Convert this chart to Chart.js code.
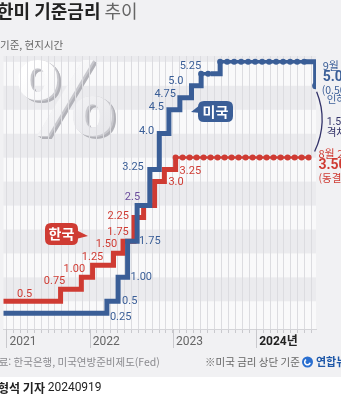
<!DOCTYPE html>
<html lang="ko"><head><meta charset="utf-8">
<script src="https://cdn.jsdelivr.net/npm/chart.js@4.4.1/dist/chart.umd.min.js"></script>
<style>html,body{margin:0;padding:0;background:#f1f1f3;overflow:hidden}canvas{display:block}</style>
</head><body>
<canvas id="chart" width="341" height="400"></canvas>
<script>
// ---- data ----
const usDates = ['2020-12-01','2022-03-16','2022-05-04','2022-06-15','2022-07-27','2022-09-21','2022-11-02','2022-12-14','2023-02-01','2023-03-22','2023-05-03','2023-06-14','2023-07-26','2023-09-20','2023-11-01','2023-12-13','2024-01-31','2024-03-20','2024-05-01','2024-06-12','2024-07-31','2024-09-18'];
const usRates = [0.25,0.5,1.0,1.75,2.5,3.25,4.0,4.5,4.75,5.0,5.25,5.25,5.5,5.5,5.5,5.5,5.5,5.5,5.5,5.5,5.5,5.0];
const usLabels = ['0.25','0.5','1.00','1.75','2.5','3.25','4.0','4.5','4.75','5.0','5.25','','','','','','','','','','',''];
const krDates = ['2020-12-01','2021-08-26','2021-11-25','2022-01-14','2022-04-14','2022-05-26','2022-07-13','2022-08-25','2022-10-12','2022-11-24','2023-01-13','2023-02-23','2023-04-11','2023-05-25','2023-07-13','2023-08-24','2023-10-19','2023-11-30','2024-01-11','2024-02-22','2024-04-12','2024-05-23','2024-07-11','2024-08-22'];
const krRates = [0.5,0.75,1.0,1.25,1.5,1.75,2.25,2.5,3.0,3.25,3.5,3.5,3.5,3.5,3.5,3.5,3.5,3.5,3.5,3.5,3.5,3.5,3.5,3.5];
const krLabels = ['0.5','0.75','1.00','1.25','1.50','1.75','2.25','','3.0','3.25','','','','','','','','','','','','','',''];
const yearLabels = ['2021','2022','2023','2024년'];
const usNote = ['9월 18일','5.00','(0.50%p','인하)'];
const krNote = ['8월 22일','3.50','(동결)'];
const gapNote = ['1.50%p','격차'];
const titleBold = '한미 기준금리', titleLight = '추이';
const subtitle = '기준, 현지시간';
const source = '자료: 한국은행, 미국연방준비제도(Fed)';
const footnote = '※미국 금리 상단 기준';
const byline = ['김형석 기자', '20240919'];

// ---- styles ----
const KR = '"Noto Sans CJK KR", sans-serif';
const NUM = 'Roboto, "Noto Sans CJK KR", sans-serif';
const BLUE = '#3a5e97', RED = '#cf3b33', PURPLE = '#6a4c9c';

function toT(s){const [y,m,d]=s.split('-').map(Number);const dim=new Date(y,m,0).getDate();return (y-2021)*12+(m-1)+(d-1)/dim;}
const usPts = usDates.map((d,i)=>({x:toT(d),y:usRates[i]}));
const krPts = krDates.map((d,i)=>({x:toT(d),y:krRates[i]}));
const flat = c => c.p0.parsed.y === c.p1.parsed.y;

function lineDs(pts,color,holdW,endDot){return {data:pts,borderColor:color,borderWidth:5,stepped:'before',fill:false,
  borderJoinStyle:'miter',borderCapStyle:'butt',
  pointRadius:c=>endDot&&c.dataIndex===pts.length-1?3.5:0,pointBackgroundColor:color,pointBorderWidth:0,pointHoverRadius:0,
  segment:{borderWidth:c=>flat(c)?holdW:5}};}
function dotDs(pts,color){return {data:pts,borderColor:color,borderWidth:6,stepped:'before',fill:false,pointRadius:0,
  borderDash:[0,7],borderCapStyle:'round',
  segment:{borderColor:c=>flat(c)?color:'rgba(0,0,0,0)'}};}

// label placement: [anchor('own'|'next'), align, dx, dy, color]
const usPlace = {0:['next','left',3,4],1:['next','left',4,0],2:['next','left',3,0],3:['next','left',2,0],4:['own','right',3,-8,PURPLE],
  5:['own','right',-6,-2],6:['own','right',-5,-2],7:['own','right',-5,-2],8:['own','right',-4,-3],9:['own','right',-8,-4],10:['own','right',0,-7]};
const krPlace = {0:['next','center',-36,-7],1:['own','center',-6,-8],2:['own','center',-7,-8],3:['own','center',0,-8],4:['own','center',-7,-9],
  5:['own','center',-5,-9],6:['own','right',-5,-1],8:['next','left',4,1],9:['next','left',4,2]};

function T(ctx,s,x,y,font,color,align){ctx.font=font;ctx.fillStyle=color;ctx.textAlign=align||'left';ctx.textBaseline='middle';ctx.fillText(s,x,y);}

function drawLabels(ctx,xs,ys,pts,labels,place,color){
  labels.forEach((s,i)=>{ if(!s||!place[i]) return; const p=place[i];
    const at = p[0]==='next'?pts[i+1].x:pts[i].x;
    T(ctx,s,xs.getPixelForValue(at)+p[2],ys.getPixelForValue(pts[i].y)+p[3],'11px '+NUM,p[4]||color,p[1]); });
}
function rr(ctx,x,y,w,h,r){ctx.beginPath();ctx.moveTo(x+r,y);ctx.lineTo(x+w-r,y);ctx.quadraticCurveTo(x+w,y,x+w,y+r);ctx.lineTo(x+w,y+h-r);ctx.quadraticCurveTo(x+w,y+h,x+w-r,y+h);ctx.lineTo(x+r,y+h);ctx.quadraticCurveTo(x,y+h,x,y+h-r);ctx.lineTo(x,y+r);ctx.quadraticCurveTo(x,y,x+r,y);ctx.closePath();}

const bgPlugin = {id:'bg',
  beforeDraw(chart){
    const {ctx,chartArea:a,scales:{y}} = chart;
    ctx.save();
    ctx.fillStyle='#f1f1f3';ctx.fillRect(0,0,chart.width,chart.height);
    ctx.fillStyle='#ffffff';ctx.fillRect(0,377,chart.width,chart.height-377);
    for(let k=0;k<12;k++){
      const lo=k*0.5, hi=Math.min(lo+0.5,y.max); if(lo>=y.max) break;
      const top=y.getPixelForValue(hi), bot=k===0?a.bottom:y.getPixelForValue(lo);
      ctx.fillStyle = k%2===1 ? '#ebebee' : '#f9f9fa';
      ctx.fillRect(a.left,top,a.right-a.left,bot-top);
    }
    // big % graphic
    ctx.font='bold 100px "DejaVu Sans", sans-serif';ctx.textAlign='center';ctx.textBaseline='middle';
    for(let i=6;i>=1;i--){ctx.fillStyle=i>3?'#b2b2b8':'#c9c9ce';ctx.fillText('%',65+i*0.7,109+i*0.45);}
    const g=ctx.createLinearGradient(30,70,100,145);g.addColorStop(0,'#ffffff');g.addColorStop(1,'#e6e6ea');
    ctx.fillStyle=g;ctx.fillText('%',65,109);
    ctx.restore();
  },
  afterDraw(chart){
    const {ctx,chartArea:a,scales:{x,y}} = chart;
    ctx.save();
    // year dividers
    ctx.strokeStyle='#c9c9cd';ctx.lineWidth=1;
    [0,12,24,36].forEach(v=>{const px=Math.round(x.getPixelForValue(v))+0.5;ctx.beginPath();ctx.moveTo(px,a.bottom);ctx.lineTo(px,a.bottom+19);ctx.stroke();});
    // value labels
    drawLabels(ctx,x,y,krPts,krLabels,krPlace,RED);
    drawLabels(ctx,x,y,usPts,usLabels,usPlace,BLUE);
    // end annotations
    const ue=usPts[usPts.length-1], ke=krPts[krPts.length-1];
    const ex=x.getPixelForValue(ue.x), ey=y.getPixelForValue(ue.y);
    const kx=x.getPixelForValue(ke.x), ky=y.getPixelForValue(ke.y);
    T(ctx,usNote[0],ex+7,ey-20,'11px '+KR,BLUE);
    T(ctx,usNote[1],ex+7,ey-8,'bold 14px '+NUM,BLUE);
    T(ctx,usNote[2],ex+6,ey+4,'10.5px '+KR,BLUE);
    T(ctx,usNote[3],ex+11,ey+13,'10.5px '+KR,BLUE);
    const mid=(ey+ky)/2;
    T(ctx,gapNote[0],ex+11,mid+1,'10.5px '+NUM,'#34346a');
    T(ctx,gapNote[1],ex+11,mid+10,'10.5px '+KR,'#34346a');
    ctx.strokeStyle='#34346a';ctx.lineWidth=1.3;ctx.beginPath();ctx.moveTo(ex+1,ey+6);ctx.quadraticCurveTo(ex+13,mid,ex-1,ky-6);ctx.stroke();
    T(ctx,krNote[0],kx+9,ky-3.5,'11px '+KR,RED);
    T(ctx,krNote[1],kx+9,ky+7.5,'bold 14px '+NUM,RED);
    T(ctx,krNote[2],kx+9,ky+20.5,'10.5px '+KR,RED);
    // bubbles
    ctx.fillStyle=BLUE;rr(ctx,198,101,35,21,6);ctx.fill();
    ctx.beginPath();ctx.moveTo(200,105);ctx.lineTo(191,112);ctx.lineTo(200,113);ctx.closePath();ctx.fill();
    T(ctx,'미국',215.5,111.5,'bold 14px '+KR,'#ffffff','center');
    ctx.fillStyle=RED;rr(ctx,45,223,33,22,6);ctx.fill();
    ctx.beginPath();ctx.moveTo(76,230);ctx.lineTo(88,236);ctx.lineTo(76,239);ctx.closePath();ctx.fill();
    T(ctx,'한국',61.5,234,'bold 14px '+KR,'#ffffff','center');
    // title & texts
    ctx.font='bold 18px '+KR;const tw=ctx.measureText(titleBold+' ').width;
    T(ctx,titleBold,-3,11,'bold 18px '+KR,'#222222');
    T(ctx,titleLight,-3+tw,11,'18px '+KR,'#666666');
    T(ctx,subtitle,0,45,'10.5px '+KR,'#666666');
    T(ctx,source,-11,362,'10.5px '+KR,'#8a8a8e');
    T(ctx,footnote,205,362,'10.5px '+KR,'#666666');
    ctx.fillStyle='#2a6fd0';ctx.beginPath();ctx.arc(307.5,362,5.5,0,Math.PI*2);ctx.fill();
    ctx.strokeStyle='#ffffff';ctx.lineWidth=1.5;ctx.beginPath();ctx.arc(307.5,362,2.8,0.3,4.2);ctx.stroke();
    T(ctx,'연합뉴스',316,362,'bold 11px '+KR,'#1f58a8');
    ctx.font='bold 12px '+KR;const bw=ctx.measureText(byline[0]+' ').width;
    T(ctx,byline[0],-13,388,'bold 12px '+KR,'#222222');
    T(ctx,byline[1],-13+bw,388,'12px '+NUM,'#222222');
    ctx.restore();
  }
};

new Chart(document.getElementById('chart'),{
  type:'line',
  data:{datasets:[dotDs(usPts,BLUE),lineDs(usPts,BLUE,3.5,true),dotDs(krPts,RED),lineDs(krPts,RED,2.5,false)]},
  options:{responsive:false,animation:false,devicePixelRatio:1,
    layout:{padding:{top:56,left:0,right:25,bottom:0}},
    plugins:{legend:{display:false},tooltip:{enabled:false}},
    events:[],
    scales:{
      x:{type:'linear',min:-0.42,max:44.62,
        afterFit(s){s.height=71;},
        border:{display:true,color:'#d4d4d8'},
        grid:{color:c=>(c.tick&&Number.isInteger(c.tick.value))?'#dcdce0':'rgba(0,0,0,0)',tickLength:4,
              tickColor:c=>(c.tick&&Number.isInteger(c.tick.value))?'#c9c9cd':'rgba(0,0,0,0)'},
        ticks:{stepSize:1,autoSkip:false,includeBounds:false,maxRotation:0,minRotation:0,align:'start',padding:2,labelOffset:3,
          callback:v=>(v>=0&&Number.isInteger(v)&&v%12===0)?yearLabels[v/12]:'',
          font:c=>({family:NUM,size:12,weight:(c.tick&&c.tick.value===36)?'bold':'normal'}),
          color:c=>(c.tick&&c.tick.value===36)?'#222222':'#666666'}},
      y:{display:false,min:-0.08,max:5.62}
    }
  },
  plugins:[bgPlugin]
});
</script>
</body></html>
